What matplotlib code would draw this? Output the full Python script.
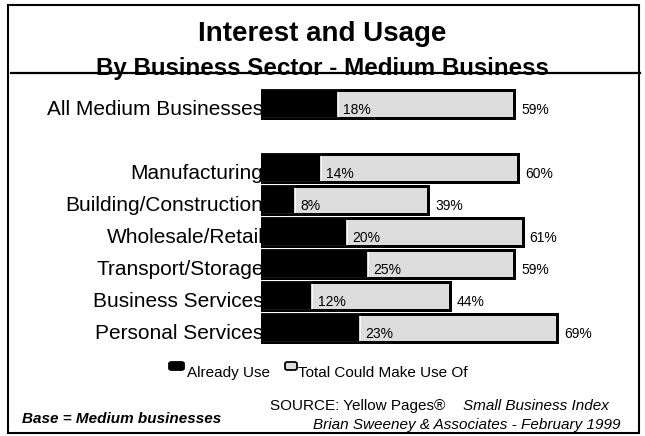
import matplotlib

matplotlib.use('Agg')
from matplotlib import pyplot as plt
from matplotlib.lines import Line2D
from matplotlib.patches import FancyBboxPatch, Rectangle

plt.rcParams['font.family'] = ['Liberation Sans', 'DejaVu Sans']

sectors = ['All Medium Businesses', 'Manufacturing', 'Building/Construction',
           'Wholesale/Retail', 'Transport/Storage', 'Business Services',
           'Personal Services']
row_pos = [0, 2, 3, 4, 5, 6, 7]
already_use = [18, 14, 8, 20, 25, 12, 23]
could_use = [59, 60, 39, 61, 59, 44, 69]

W, H = 645, 436
fig = plt.figure(figsize=(W / 100, H / 100), dpi=100)


def fx(px):
    return px / W


def fy(py):
    # pixel rows counted from the top
    return 1 - py / H


# bar area: 0% sits at x=261px, 4.29 px per percent
ax = fig.add_axes([fx(261), fy(344), 80 * 4.29 / W, 256 / H])
ax.set_xlim(0, 80)
ax.set_ylim(7.5, -0.5)
ax.axis('off')

grey = '#dddddd'
ax.barh(row_pos, could_use, height=0.9, color=grey, edgecolor='black', linewidth=2, zorder=2)
ax.barh(row_pos, already_use, height=0.9, color='black', edgecolor='white', linewidth=1.2, zorder=3)
# redraw the outline so the white edge only shows between the two fills
ax.barh(row_pos, could_use, height=0.9, fill=False, edgecolor='black', linewidth=2, zorder=4)

for y, name, a, c in zip(row_pos, sectors, already_use, could_use):
    ax.text(0.6, y + 0.35, name, ha='right', va='baseline', fontsize=15, zorder=1, clip_on=False)
    ax.text(a + 1.2, y + 0.31, f'{a}%', ha='left', va='baseline', fontsize=10, zorder=5)
    ax.text(c + 1.6, y + 0.31, f'{c}%', ha='left', va='baseline', fontsize=10, zorder=5)

fig.text(0.5, fy(41), 'Interest and Usage', ha='center', va='baseline',
         fontsize=20, fontweight='bold')
fig.text(0.5, fy(75), 'By Business Sector - Medium Business', ha='center', va='baseline',
         fontsize=17.4, fontweight='bold')
fig.add_artist(Line2D([fx(11), fx(640)], [fy(73), fy(73)], color='black', linewidth=1.6))

# outer frame
fig.add_artist(Rectangle((fx(8), fy(433)), 631 / W, 428 / H, fill=False,
                         edgecolor='black', linewidth=1.5))

# legend keys
fig.add_artist(FancyBboxPatch((fx(169), fy(370)), 15 / W, 8 / H,
                              boxstyle='round,pad=0,rounding_size=0.004',
                              facecolor='black', edgecolor='black', linewidth=1.3))
fig.add_artist(FancyBboxPatch((fx(285), fy(370)), 12 / W, 8 / H,
                              boxstyle='round,pad=0,rounding_size=0.004',
                              facecolor=grey, edgecolor='black', linewidth=1.3))
fig.text(fx(187), fy(377), 'Already Use', fontsize=11, va='baseline')
fig.text(fx(298), fy(377), 'Total Could Make Use Of', fontsize=11, va='baseline')

fig.text(fx(270), fy(410), 'SOURCE: Yellow Pages®', fontsize=11, va='baseline')
fig.text(fx(463), fy(410), 'Small Business Index', fontsize=11, style='italic', va='baseline')
fig.text(fx(313), fy(429), 'Brian Sweeney & Associates - February 1999', fontsize=11,
         style='italic', va='baseline')
fig.text(fx(22), fy(423), 'Base = Medium businesses', fontsize=11, style='italic',
         fontweight='bold', va='baseline')

fig.savefig('out.png', dpi=100)
